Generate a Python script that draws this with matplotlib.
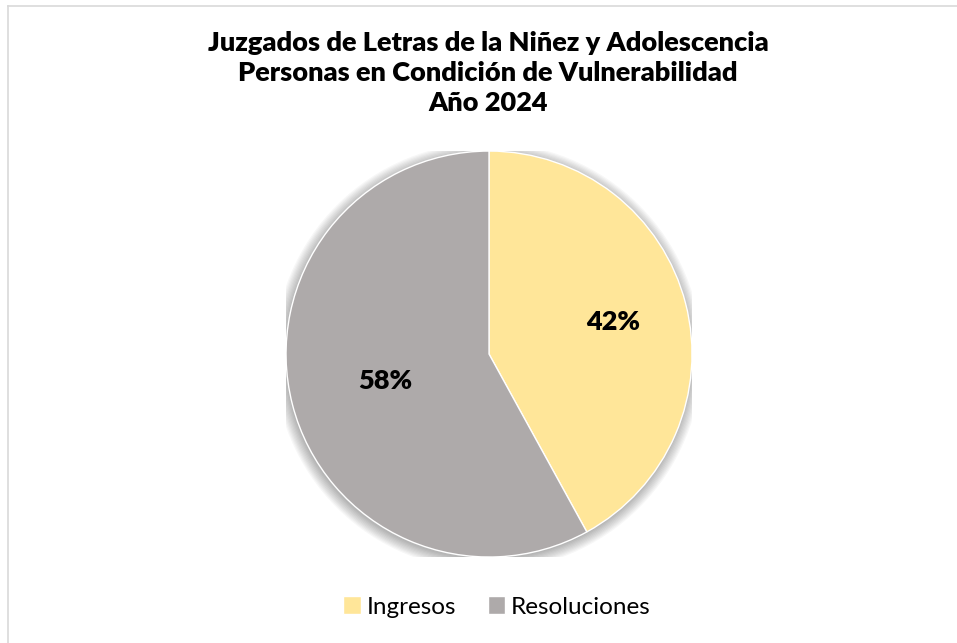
import numpy as np
import matplotlib.pyplot as plt
from matplotlib.patches import Circle
from matplotlib.lines import Line2D

categorias = ['Ingresos', 'Resoluciones']
porcentajes = [42, 58]
colores = ['#FFE699', '#AEAAAA']

titulo = ('Juzgados de Letras de la Niñez y Adolescencia\n'
          'Personas en Condición de Vulnerabilidad\n'
          'Año 2024')

plt.rcParams['font.family'] = ['Lato', 'DejaVu Sans']

fig = plt.figure(figsize=(9.57, 6.43), dpi=100)
fig.patch.set_facecolor('white')

# marco gris claro del grafico
fig.add_artist(Line2D([8/957, 1], [1 - 6/643, 1 - 6/643], color='#D9D9D9', lw=1.2))
fig.add_artist(Line2D([8/957, 8/957], [0, 1 - 6/643], color='#D9D9D9', lw=1.2))

ax = fig.add_axes([0.2989, 0.1337, 0.4242, 0.6314])

# sombra suave alrededor del pastel
for i in range(10):
    ax.add_patch(Circle((-0.005, -0.012), 1.0 + 0.006 * i, color='black',
                        alpha=0.03, lw=0, zorder=0))

wedges, textos, autotextos = ax.pie(
    porcentajes, colors=colores, startangle=90, counterclock=False,
    autopct='%.0f%%', pctdistance=0.58,
    wedgeprops=dict(edgecolor='white', linewidth=1.0),
    textprops=dict(fontsize=19.5, fontweight='heavy', color='black'))
for w in wedges:
    w.set_zorder(2)

# distancia de cada etiqueta al centro
distancias = [0.63, 0.53]
for w, t, d in zip(wedges, autotextos, distancias):
    ang = np.deg2rad((w.theta1 + w.theta2) / 2)
    t.set_position((d * np.cos(ang), d * np.sin(ang)))

ax.set_xlim(-1, 1)
ax.set_ylim(-1, 1)
ax.set_aspect('equal')
ax.axis('off')

fig.text(488/957, 1 - 73/643, titulo, ha='center', va='center',
         fontsize=19.5, fontweight='heavy', linespacing=1.3)

fig.legend(wedges, categorias, loc='center', bbox_to_anchor=(497/957, 1 - 607/643),
           ncol=2, frameon=False, fontsize=17.5, handlelength=0.7, handleheight=0.7,
           handletextpad=0.25, columnspacing=1.3)

plt.savefig('out.png', dpi=100)
